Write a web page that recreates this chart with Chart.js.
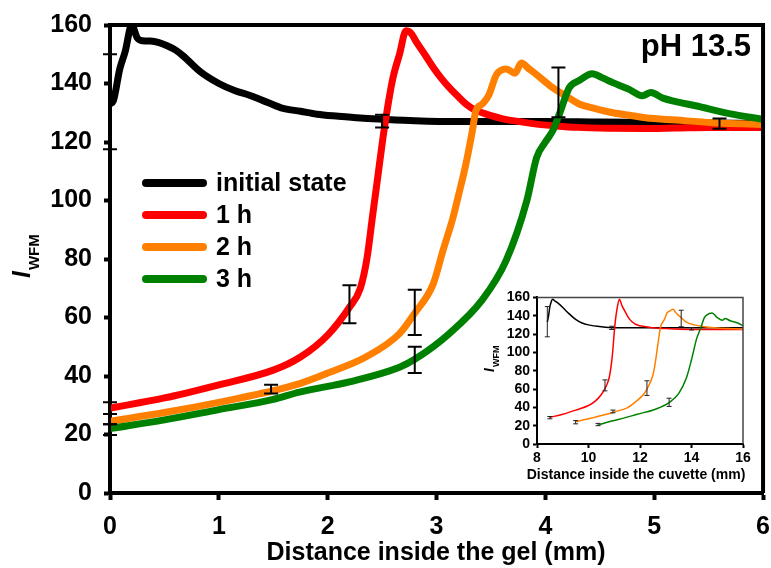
<!DOCTYPE html>
<html>
<head>
<meta charset="utf-8">
<script src="https://cdn.jsdelivr.net/npm/chart.js@4.4.1/dist/chart.umd.min.js"></script>
<style>
  html, body { margin: 0; padding: 0; background: #fff; overflow: hidden; }
  #wrap { position: relative; width: 771px; height: 568px; overflow: hidden; }
  #main { position: absolute; left: 0; top: -2px; }
  #inset { position: absolute; left: 468px; top: 286px; }
</style>
</head>
<body>
<div id="wrap">
  <canvas id="main" width="782" height="570"></canvas>
  <canvas id="inset" width="290" height="200"></canvas>
</div>
<script>
const FONT = '"Liberation Sans", Arial, sans-serif';
const SHIFT = 2; // main canvas sits 2px above the page top

// ---- main chart data (distance inside the gel, mm) ----
const seriesNames = ['initial state', '1 h', '2 h', '3 h'];
const seriesColors = ['#000000', '#ff0000', '#ff8000', '#008000'];

const blackX = [0, 0.03, 0.09, 0.14, 0.2, 0.25, 0.3, 0.37, 0.45, 0.52, 0.6, 0.67, 0.83, 1.0, 1.15, 1.28, 1.45, 1.59, 1.75, 1.9, 2.1, 2.3, 2.5, 2.8, 3.2, 3.6, 4.0, 4.5, 5.0, 5.5, 6.0];
const blackY = [133, 134, 145, 151, 160, 155.6, 154.6, 154.5, 154, 153, 151.5, 149.5, 144, 140, 137.5, 136, 133.5, 131.5, 130.5, 129.5, 128.8, 128.2, 127.8, 127.3, 127, 127, 127, 126.8, 126.7, 126.5, 126.3];

const redX = [0, 0.5, 1.0, 1.5, 1.75, 2.0, 2.2, 2.3, 2.36, 2.41, 2.46, 2.51, 2.56, 2.6, 2.66, 2.72, 2.77, 2.81, 2.9, 2.97, 3.05, 3.12, 3.2, 3.27, 3.35, 3.42, 3.5, 3.6, 3.7, 3.9, 4.1, 4.3, 4.6, 4.9, 5.2, 5.5, 5.8, 6.0];
const redY = [29, 32.5, 37, 42, 46.5, 54, 63.5, 70, 80, 94, 108, 122, 134, 142, 150, 158, 157, 154.5, 149.5, 145.5, 141.5, 138.5, 135.5, 133, 131, 130, 129, 128, 127.3, 126.2, 125.5, 125, 124.7, 124.6, 124.8, 125, 125, 125];

const orangeX = [0, 0.5, 1.0, 1.5, 1.75, 2.0, 2.35, 2.66, 2.8, 2.97, 3.06, 3.15, 3.21, 3.27, 3.33, 3.36, 3.42, 3.48, 3.55, 3.64, 3.72, 3.78, 3.85, 3.92, 4.07, 4.2, 4.31, 4.45, 4.62, 4.8, 4.92, 5.2, 5.53, 5.8, 6.0];
const orangeY = [24.5, 27.5, 31, 35, 37.5, 41, 46.5, 54.5, 61.5, 71.5, 83, 94, 103, 112.5, 124, 130.5, 133, 136, 143, 145, 143.5, 147, 145, 143, 138.5, 135.5, 133, 131.5, 130, 129, 128.3, 127.5, 126.6, 126.2, 126];

const greenX = [0, 0.5, 1.0, 1.5, 1.74, 2.2, 2.66, 2.8, 3.12, 3.42, 3.64, 3.83, 3.92, 4.0, 4.07, 4.13, 4.22, 4.31, 4.43, 4.52, 4.62, 4.77, 4.89, 4.97, 5.08, 5.2, 5.38, 5.69, 6.0];
const greenY = [22, 25, 28.5, 32, 34.5, 38, 43, 45.7, 54.6, 66, 79.5, 100, 114.7, 120, 124, 129.7, 138.6, 141, 143.3, 142, 140.3, 138, 135.8, 136.9, 135, 133.8, 132.4, 129.7, 127.8];

// error bars on the main chart
const errX = [0, 2.5, 5.6, 0, 2.2, 0, 1.48, 2.8, 4.12, 0, 2.8];
const errLow = [117.5, 125, 124.5, 27, 58, 23.5, 34, 54, 128.5, 19.8, 41];
const errHigh = [150, 129.3, 128, 31, 71, 27, 37, 69.5, 145.5, 23.5, 50];

const xTicks = [0, 1, 2, 3, 4, 5, 6];
const yTicks = [0, 20, 40, 60, 80, 100, 120, 140, 160];

// ---- inset data (distance inside the cuvette, mm) ----
const inBlackX = [8.4, 8.45, 8.5, 8.55, 8.6, 8.7, 8.85, 9.0, 9.25, 9.5, 9.75, 10.0, 10.5, 11, 12, 13, 14, 15, 16];
const inBlackY = [133, 140, 150, 155, 158, 156, 153, 149, 142, 136, 132, 130, 128, 127, 127, 127, 127, 127, 127];
const inRedX = [8.5, 9.0, 9.5, 10.0, 10.25, 10.5, 10.7, 10.8, 10.9, 10.95, 11.0, 11.05, 11.1, 11.2, 11.3, 11.45, 11.6, 11.8, 12.0, 12.5, 13, 14, 15, 16];
const inRedY = [29, 32.5, 37, 42, 46.5, 54, 64, 72, 90, 104, 122, 136, 146, 158, 151, 143, 136, 131, 129, 127, 126, 125, 125, 125];
const inOrangeX = [9.5, 10, 10.5, 11, 11.5, 11.85, 12.15, 12.3, 12.5, 12.6, 12.7, 12.8, 12.86, 12.95, 13.05, 13.15, 13.28, 13.4, 13.6, 13.8, 14.1, 14.5, 15, 16];
const inOrangeY = [24.5, 27.5, 31, 35, 39.5, 46.5, 54.5, 61.5, 75, 90, 110, 128, 132, 136, 143, 145, 147, 143, 138, 133, 130, 128, 126.5, 125.5];
const inGreenX = [10.4, 10.9, 11.4, 11.9, 12.6, 13.15, 13.5, 13.8, 14.0, 14.2, 14.35, 14.5, 14.6, 14.8, 15.0, 15.2, 15.3, 15.5, 15.8, 16.0];
const inGreenY = [21, 25, 28.5, 32.5, 38, 45.5, 55, 72, 92, 115, 126, 138, 141, 143, 138, 135, 137, 134.5, 132, 129];

const inErrX = [8.4, 8.5, 9.5, 10.37, 10.64, 10.95, 10.9, 12.27, 13.13, 13.6, 14.0];
const inErrLow = [117, 27.5, 22, 20, 58, 34, 125, 53, 41, 128, 124.5];
const inErrHigh = [150, 30, 25.5, 22.5, 70, 37, 128.5, 69, 50, 146, 127];

const inXTicks = [8, 10, 12, 14, 16];
const inYTicks = [0, 20, 40, 60, 80, 100, 120, 140, 160];

function toPoints(xs, ys) {
  return xs.map((x, i) => ({ x: x, y: ys[i] }));
}

function makeDatasets(pairs, width) {
  return pairs.map((p, i) => ({
    label: seriesNames[i],
    data: toPoints(p[0], p[1]),
    borderColor: seriesColors[i],
    backgroundColor: seriesColors[i],
    borderWidth: width,
    pointRadius: 0,
    fill: false,
    cubicInterpolationMode: 'monotone',
    order: 4 - i
  }));
}

// Draws the top and right sides of the frame
function frameBox(color, width) {
  return {
    id: 'frameBox',
    afterDraw(chart) {
      const a = chart.chartArea, ctx = chart.ctx;
      ctx.save();
      ctx.strokeStyle = color;
      ctx.lineWidth = width;
      ctx.beginPath();
      ctx.moveTo(a.left, a.top);
      ctx.lineTo(a.right, a.top);
      ctx.lineTo(a.right, a.bottom);
      ctx.stroke();
      ctx.restore();
    }
  };
}

// Vertical error bars with caps
function errorBars(xs, lows, highs, color, width, cap) {
  return {
    id: 'errorBars',
    afterDatasetsDraw(chart) {
      const sx = chart.scales.x, sy = chart.scales.y, ctx = chart.ctx;
      ctx.save();
      ctx.strokeStyle = color;
      ctx.lineWidth = width;
      xs.forEach((v, i) => {
        const px = sx.getPixelForValue(v);
        const lo = sy.getPixelForValue(lows[i]);
        const hi = sy.getPixelForValue(highs[i]);
        ctx.beginPath();
        ctx.moveTo(px, lo); ctx.lineTo(px, hi);
        ctx.moveTo(px - cap, lo); ctx.lineTo(px + cap, lo);
        ctx.moveTo(px - cap, hi); ctx.lineTo(px + cap, hi);
        ctx.stroke();
      });
      ctx.restore();
    }
  };
}

// Rotated "I" with subscript "WFM"
function drawIwfm(ctx, x, y, big, sub, shift) {
  ctx.save();
  ctx.translate(x, y);
  ctx.rotate(-Math.PI / 2);
  ctx.fillStyle = '#000';
  ctx.textAlign = 'left';
  ctx.textBaseline = 'alphabetic';
  ctx.font = 'italic bold ' + big + 'px ' + FONT;
  ctx.fillText('I', 0, 0);
  const w = ctx.measureText('I').width;
  ctx.font = 'bold ' + sub + 'px ' + FONT;
  ctx.fillText('WFM', w + 1, shift);
  ctx.restore();
}

const mainTexts = {
  id: 'mainTexts',
  afterDraw(chart) {
    const ctx = chart.ctx;
    ctx.save();
    ctx.translate(0, SHIFT);
    ctx.fillStyle = '#000';
    ctx.textBaseline = 'middle';
    // legend
    chart.data.datasets.forEach((ds, i) => {
      const y = 183 + i * 32;
      ctx.strokeStyle = ds.borderColor;
      ctx.lineWidth = 8;
      ctx.lineCap = 'round';
      ctx.beginPath();
      ctx.moveTo(146, y);
      ctx.lineTo(203, y);
      ctx.stroke();
      ctx.font = 'bold 25px ' + FONT;
      ctx.textAlign = 'left';
      ctx.fillText(ds.label, 216, y + 1);
    });
    ctx.font = 'bold 31px ' + FONT;
    ctx.textAlign = 'right';
    ctx.fillText('pH 13.5', 751, 47);
    ctx.font = 'bold 25px ' + FONT;
    ctx.textAlign = 'center';
    ctx.fillText('Distance inside the gel (mm)', 436, 553);
    drawIwfm(ctx, 30, 278, 25, 15, 9);
    ctx.restore();
  }
};

const insetTexts = {
  id: 'insetTexts',
  afterDraw(chart) {
    const ctx = chart.ctx;
    ctx.save();
    ctx.fillStyle = '#000';
    ctx.font = 'bold 14px ' + FONT;
    ctx.textAlign = 'center';
    ctx.textBaseline = 'middle';
    ctx.fillText('Distance inside the cuvette (mm)', 168, 189);
    ctx.restore();
    drawIwfm(ctx, 26, 86, 14, 9, 5);
  }
};

function axisOptions(min, max, ticks, fontSize, tickLen, tickW, borderW, pad, fit) {
  return {
    type: 'linear',
    min: min,
    max: max,
    afterBuildTicks: s => { s.ticks = ticks.map(v => ({ value: v })); },
    ticks: {
      color: '#000',
      font: { family: FONT, size: fontSize, weight: 'bold' },
      padding: pad,
      autoSkip: false,
      maxRotation: 0
    },
    grid: {
      drawOnChartArea: false,
      drawTicks: true,
      tickLength: tickLen,
      tickWidth: tickW,
      tickColor: '#000'
    },
    border: { display: true, color: '#000', width: borderW },
    afterFit: fit
  };
}

new Chart(document.getElementById('main'), {
  type: 'line',
  data: {
    datasets: makeDatasets([[blackX, blackY], [redX, redY], [orangeX, orangeY], [greenX, greenY]], 7)
  },
  options: {
    responsive: false,
    animation: false,
    layout: { padding: { top: 22, right: 8, left: 0, bottom: 0 } },
    plugins: { legend: { display: false }, tooltip: { enabled: false } },
    scales: {
      x: axisOptions(0, 6, xTicks, 25, 7, 4, 4, 12, s => { s.height = 75; }),
      y: axisOptions(0, 160, yTicks, 25, 6, 4, 4, 12, s => { s.width = 110; })
    }
  },
  plugins: [frameBox('#000', 4), errorBars(errX, errLow, errHigh, '#000', 2, 7), mainTexts]
});

new Chart(document.getElementById('inset'), {
  type: 'line',
  data: {
    datasets: makeDatasets([[inBlackX, inBlackY], [inRedX, inRedY], [inOrangeX, inOrangeY], [inGreenX, inGreenY]], 1.5)
  },
  options: {
    responsive: false,
    animation: false,
    layout: { padding: { top: 10, right: 15, left: 0, bottom: 0 } },
    plugins: { legend: { display: false }, tooltip: { enabled: false } },
    scales: {
      x: axisOptions(8, 16, inXTicks, 14, 4, 2, 2, 2, s => { s.height = 42; }),
      y: axisOptions(0, 160, inYTicks, 14, 4, 2, 2, 3, s => { s.width = 69; })
    }
  },
  plugins: [frameBox('#444', 1.5), errorBars(inErrX, inErrLow, inErrHigh, '#222', 1, 2.5), insetTexts]
});
</script>
</body>
</html>
